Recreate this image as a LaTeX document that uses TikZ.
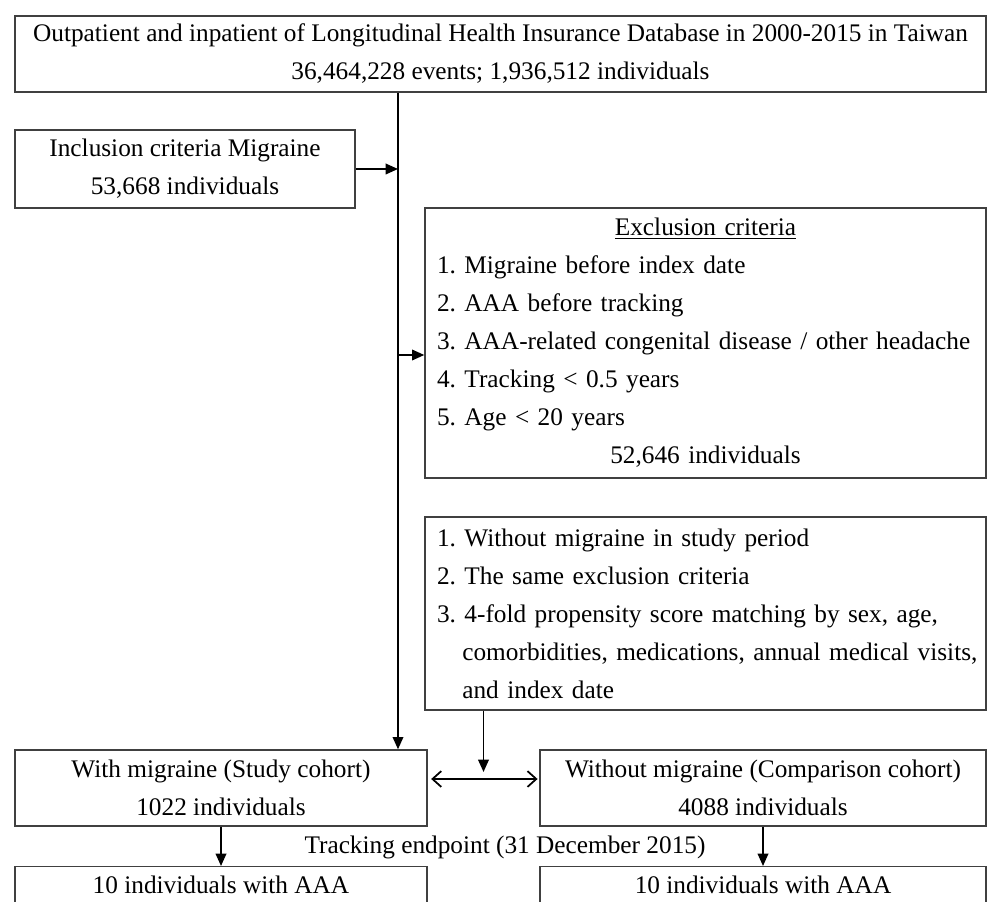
\documentclass[tikz,border=0pt]{standalone}
\usepackage{fontspec}
\setmainfont{Liberation Serif}
\usetikzlibrary{arrows.meta, positioning, calc}

\newcommand{\rowline}[1]{\makebox[\hsize][l]{#1}}
\newcommand{\midline}[1]{\makebox[\hsize]{#1}}

\begin{document}
\begin{tikzpicture}[
  x=0.02cm, y=-0.02cm,
  box/.style={rectangle, draw=black!75, line width=0.8pt, align=center,
              inner sep=0pt, font=\fontsize{14.4}{21.6}\selectfont\frenchspacing},
  listbox/.style={box, align=left, inner xsep=0.24cm, text width=10.74cm,
                  minimum width=11.22cm},
  endbox/.style={box, anchor=north, text height=15pt, text depth=40pt},
  arrow/.style={-{Triangle[length=7pt,width=6pt]}, line width=1pt},
  twoway/.style={{Straight Barb[length=5pt,width=9pt]}-{Straight Barb[length=5pt,width=9pt]},
                 line width=1pt, shorten <=2pt, shorten >=1pt}
]
  \useasboundingbox (0,0) rectangle (987,902);
  \clip (0,0) rectangle (987,902);

  \node[box, minimum width=19.42cm, minimum height=1.52cm] (db) at (500.5,54)
    {Outpatient and inpatient of Longitudinal Health Insurance Database in 2000-2015 in Taiwan\\
     36,464,228 events; 1,936,512 individuals};
  \node[box, minimum width=6.8cm, minimum height=1.56cm] (incl) at (185,169)
    {Inclusion criteria Migraine\\53,668 individuals};
  \node[listbox, minimum height=5.4cm] (excl) at (705.5,343)
    {\midline{\underline{Exclusion criteria}}\\
     \rowline{1. Migraine before index date}\\
     \rowline{2. AAA before tracking}\\
     \rowline{3. AAA-related congenital disease / other headache}\\
     \rowline{4. Tracking < 0.5 years}\\
     \rowline{5. Age < 20 years}\\
     \midline{52,646 individuals}};
  \node[listbox, minimum height=3.86cm] (match) at (705.5,613.5)
    {\rowline{1. Without migraine in study period}\\
     \rowline{2. The same exclusion criteria}\\
     \rowline{3. 4-fold propensity score matching by sex, age,}\\
     \rowline{\hspace*{1em}comorbidities, medications, annual medical visits,}\\
     \rowline{\hspace*{1em}and index date}};

  % the two cohorts
  \node[box, minimum width=8.24cm, minimum height=1.52cm] (study) at (221,788)
    {With migraine (Study cohort)\\1022 individuals};
  \node[box, minimum width=8.92cm, minimum height=1.52cm] (comp) at (763,788)
    {Without migraine (Comparison cohort)\\4088 individuals};
  \node[font=\fontsize{14.4}{21.6}\selectfont] (track) at (505,847)
    {Tracking endpoint (31 December 2015)};
  \node[endbox, minimum width=8.24cm] (aaa1) at (221,866) {10 individuals with AAA};
  \node[endbox, minimum width=8.92cm] (aaa2) at (763,866) {10 individuals with AAA};

  \coordinate (spine) at (398,0);
  \coordinate (hub) at ($(study.east)!0.5!(comp.west)$);

  \draw[arrow] (db.south -| spine) -- (study.north -| spine);
  \draw[arrow] (incl.east) -- (incl.east -| spine);
  \draw[arrow] ([yshift=-0.24cm]excl.west -| spine) -- ([yshift=-0.24cm]excl.west);
  \draw[arrow] (match.south -| hub) -- ([yshift=0.32cm]hub);
  \draw[twoway] ([yshift=0.18cm]study.east) -- ([yshift=0.18cm]comp.west);
  \draw[arrow] (study) -- (aaa1);
  \draw[arrow] (comp) -- (aaa2);
\end{tikzpicture}
\end{document}
